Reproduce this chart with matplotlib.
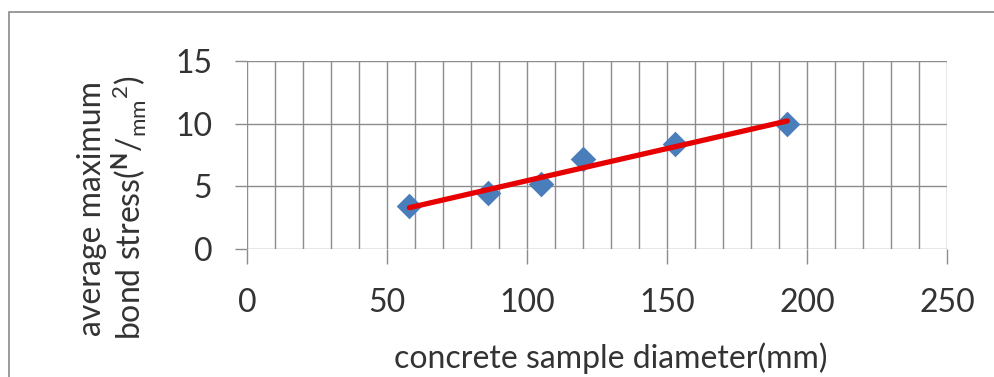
import numpy as np
import matplotlib
matplotlib.use("Agg")
import matplotlib.pyplot as plt
from matplotlib.patches import Rectangle
from matplotlib.ticker import MultipleLocator

# data
diameter = [58, 86, 105, 120, 153, 193]
bond_stress = [3.4, 4.5, 5.15, 7.2, 8.35, 10.0]

x_ticks = [0, 50, 100, 150, 200, 250]
y_ticks = [0, 5, 10, 15]

plt.rcParams["font.family"] = ["Lato", "DejaVu Sans"]
plt.rcParams["mathtext.fontset"] = "custom"
plt.rcParams["mathtext.rm"] = "Lato"
plt.rcParams["mathtext.bf"] = "Lato:bold"

text_color = "#333333"
grid_color = "#8c8c8c"

fig = plt.figure(figsize=(9.95, 3.77), dpi=100)
fig.patch.set_facecolor("white")

# outer chart border
fig.patches.append(
    Rectangle((9 / 995, -0.1), 1.2, 1 - 12 / 377 + 0.1,
              transform=fig.transFigure, fill=False,
              edgecolor="#8a8a8a", linewidth=1.2)
)

ax = fig.add_axes([247 / 995, 1 - 249 / 377, 700 / 995, 188 / 377])

ax.scatter(diameter, bond_stress, marker="D", s=170, color="#4a7ebb",
           zorder=3, linewidths=0)

# linear trend line
coef = np.polyfit(diameter, bond_stress, 1)
xs = np.array([min(diameter), max(diameter)])
ax.plot(xs, np.polyval(coef, xs), color="#e60000", linewidth=3.8,
        solid_capstyle="round", zorder=4)

ax.set_xlim(0, 250)
ax.set_ylim(0, 15)
ax.set_xticks(x_ticks)
ax.set_yticks(y_ticks)
ax.xaxis.set_minor_locator(MultipleLocator(10))

ax.grid(which="both", axis="x", color=grid_color, linewidth=1.0)
ax.grid(which="major", axis="y", color=grid_color, linewidth=1.0)
ax.set_axisbelow(True)

for s in ["top", "right", "left", "bottom"]:
    ax.spines[s].set_visible(False)

ax.tick_params(axis="x", which="major", length=11, width=1.0,
               color=grid_color, pad=17, labelsize=23, labelcolor=text_color)
ax.tick_params(axis="x", which="minor", length=0)
ax.tick_params(axis="y", which="major", length=9, width=1.0,
               color=grid_color, pad=16, labelsize=23, labelcolor=text_color)

fig.text(611 / 995, 1 - 358 / 377, "concrete sample diameter(mm)",
         ha="center", va="center", fontsize=23, color=text_color)
fig.text(113 / 995, 1 - 208 / 377,
         "average maximum\n"
         r"bond stress($^{\mathbf{N}}/_{\mathrm{mm}}{}^{2}$)",
         ha="center", va="center", rotation=90, fontsize=23,
         color=text_color, multialignment="center", linespacing=1.12)

fig.savefig("out.png", dpi=100, facecolor="white")
